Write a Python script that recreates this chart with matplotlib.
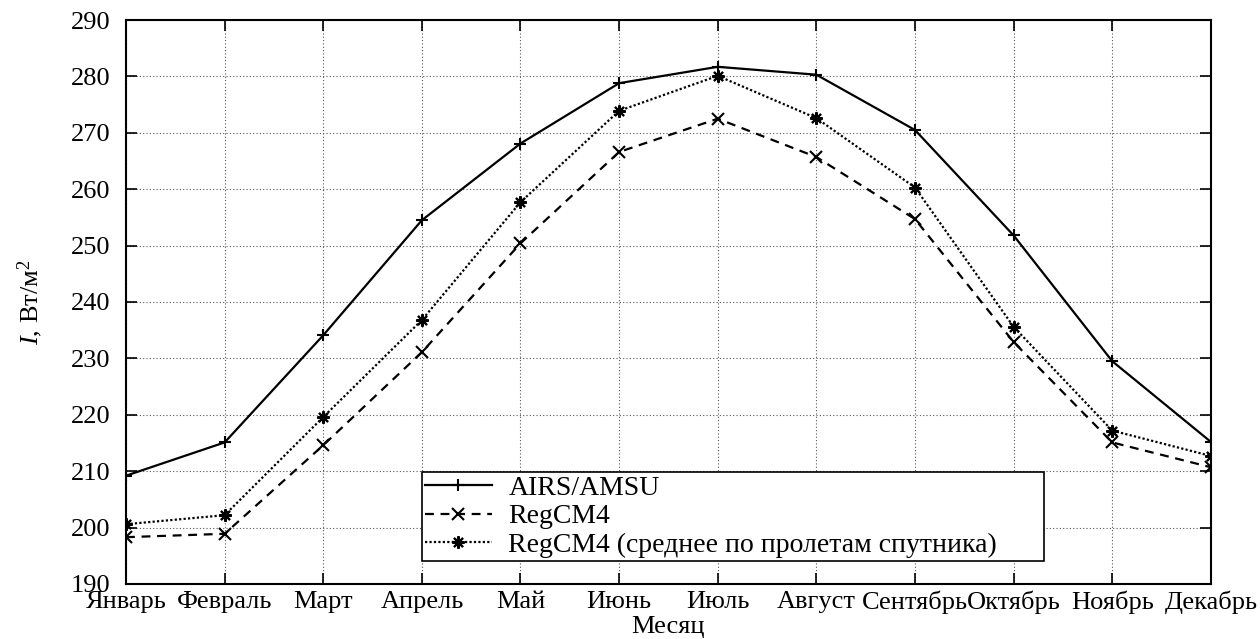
import matplotlib
matplotlib.use('Agg')
import matplotlib.pyplot as plt

# monthly mean values, W/m^2
months = ['Январь', 'Февраль', 'Март', 'Апрель', 'Май', 'Июнь',
          'Июль', 'Август', 'Сентябрь', 'Октябрь', 'Ноябрь', 'Декабрь']
airs = [209.2, 215.1, 234.1, 254.5, 268.1, 278.8, 281.7, 280.3, 270.5, 251.8, 229.5, 215.2]
regcm = [198.3, 198.9, 214.6, 231.1, 250.4, 266.6, 272.5, 265.7, 254.7, 232.9, 215.1, 210.7]
regcm_sat = [200.6, 202.2, 219.6, 236.8, 257.7, 273.9, 280.1, 272.6, 260.3, 235.6, 217.2, 212.7]
labels = ['AIRS/AMSU', 'RegCM4', 'RegCM4 (среднее по пролетам спутника)']

plt.rcParams['font.family'] = ['Liberation Serif', 'DejaVu Serif']
plt.rcParams['mathtext.fontset'] = 'custom'
plt.rcParams['mathtext.rm'] = 'Liberation Serif'
plt.rcParams['mathtext.it'] = 'Liberation Serif:italic'
plt.rcParams['font.size'] = 19

fig = plt.figure(figsize=(12.6, 6.39), dpi=100)
ax = fig.add_axes([0.1, 0.0861, 0.861, 0.8826])

x = range(len(months))
ax.plot(x, airs, color='black', lw=1.6, ls='-', marker='+', ms=9, mew=1.5, label=labels[0])
ax.plot(x, regcm, color='black', lw=1.6, ls=(0, (4, 3)), marker='x', ms=8, mew=1.5, label=labels[1])
ax.plot(x, regcm_sat, color='black', lw=1.6, ls=(0, (1, 1)), marker=(8, 2, 0), ms=9, mew=1.5, label=labels[2])

ax.set_xlim(0, 11)
ax.set_ylim(190, 290)
ax.set_xticks(list(x))
ax.set_xticklabels(months)
ax.set_yticks(range(190, 291, 10))
ax.grid(True, color='#555555', ls=(0, (1, 2)), lw=0.8)
ax.tick_params(direction='in', length=8, width=1.2, top=True, right=True)
ax.tick_params(axis='y', pad=11)
ax.tick_params(axis='x', pad=5)
for s in ax.spines.values():
    s.set_linewidth(1.5)

ax.set_xlabel('Месяц', labelpad=1)
ax.set_ylabel(r'$I$, Вт/м$^2$', labelpad=19)

leg = ax.legend(loc='lower left', bbox_to_anchor=(0.273, 0.041, 0.573, 0.16), mode='expand',
                frameon=True, fancybox=False, edgecolor='black', framealpha=1,
                handlelength=2.4, handletextpad=0.6, borderaxespad=0, borderpad=0.1,
                labelspacing=0.12, fontsize=20)
leg.get_frame().set_linewidth(1.2)

fig.savefig('out.png', dpi=100)
